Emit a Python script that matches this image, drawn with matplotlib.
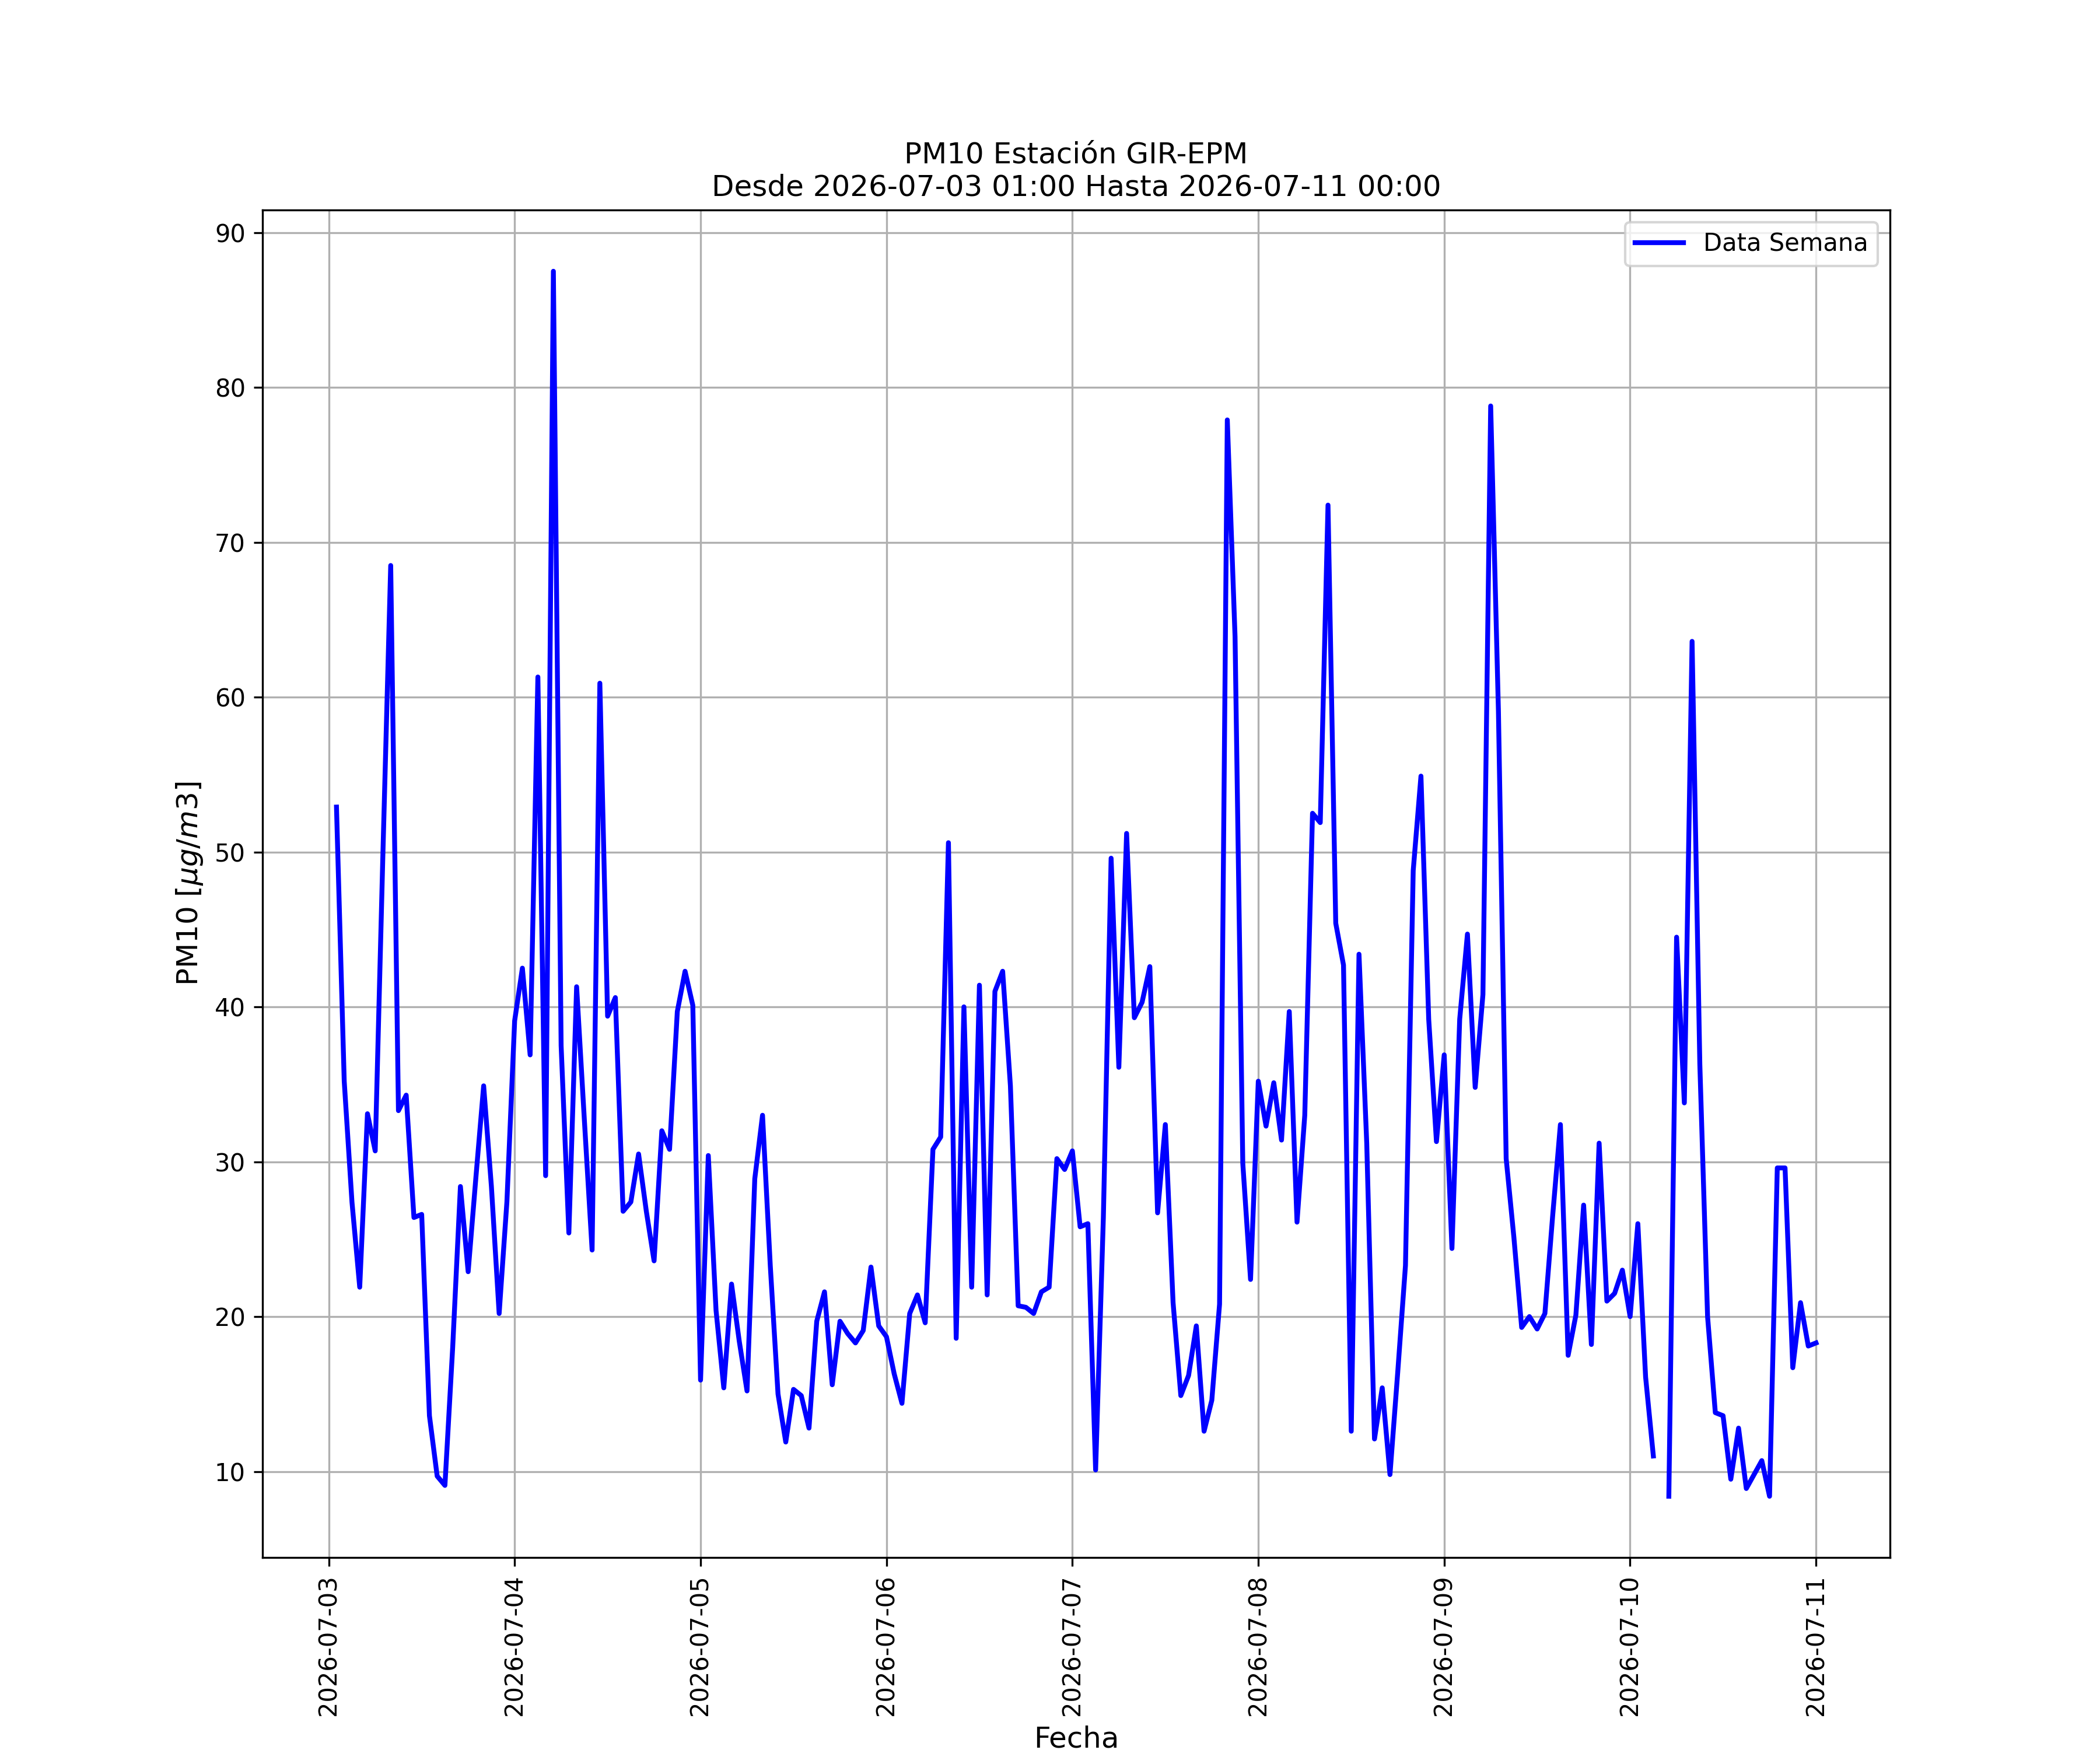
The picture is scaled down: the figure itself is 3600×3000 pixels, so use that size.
import numpy as np
import pandas as pd
import matplotlib
matplotlib.use("Agg")
import matplotlib.pyplot as plt
import matplotlib.dates as mdates

start = "2026-07-03 01:00"
end = "2026-07-11 00:00"
station = "GIR-EPM"

pm10_day1 = [52.9, 35.2, 27.4, 21.9, 33.1, 30.7, 50.0, 68.5, 33.3, 34.3, 26.4, 26.6,
             13.6, 9.7, 9.1, 18.0, 28.4, 22.9, 29.0, 34.9, 28.4, 20.2, 27.4, 39.1]
pm10_day2 = [42.5, 36.9, 61.3, 29.1, 87.5, 37.5, 25.4, 41.3, 32.7, 24.3, 60.9, 39.4,
             40.6, 26.8, 27.4, 30.5, 26.8, 23.6, 32.0, 30.8, 39.7, 42.3, 40.1, 15.9]
pm10_day3 = [30.4, 20.4, 15.4, 22.1, 18.4, 15.2, 28.9, 33.0, 23.3, 15.0, 11.9, 15.3,
             14.9, 12.8, 19.7, 21.6, 15.6, 19.7, 18.9, 18.3, 19.1, 23.2, 19.4, 18.7]
pm10_day4 = [16.3, 14.4, 20.2, 21.4, 19.6, 30.8, 31.6, 50.6, 18.6, 40.0, 21.9, 41.4,
             21.4, 41.0, 42.3, 34.9, 20.7, 20.6, 20.2, 21.6, 21.9, 30.2, 29.5, 30.7]
pm10_day5 = [25.8, 26.0, 10.1, 26.4, 49.6, 36.1, 51.2, 39.3, 40.3, 42.6, 26.7, 32.4,
             20.9, 14.9, 16.2, 19.4, 12.6, 14.6, 20.8, 77.9, 63.9, 29.9, 22.4, 35.2]
pm10_day6 = [32.3, 35.1, 31.4, 39.7, 26.1, 33.0, 52.5, 51.9, 72.4, 45.4, 42.7, 12.6,
             43.4, 31.2, 12.1, 15.4, 9.8, 16.4, 23.3, 48.8, 54.9, 39.2, 31.3, 36.9]
pm10_day7 = [24.4, 39.2, 44.7, 34.8, 40.8, 78.8, 59.1, 30.2, 25.1, 19.3, 20.0, 19.2,
             20.2, 26.5, 32.4, 17.5, 20.1, 27.2, 18.2, 31.2, 21.0, 21.5, 23.0, 20.0]
pm10_day8 = [26.0, 16.1, 11.0, np.nan, 8.4, 44.5, 33.8, 63.6, 36.3, 20.0, 13.8, 13.6,
             9.5, 12.8, 8.9, 9.8, 10.7, 8.4, 29.6, 29.6, 16.7, 20.9, 18.1, 18.3]

pm10 = pm10_day1 + pm10_day2 + pm10_day3 + pm10_day4 + pm10_day5 + pm10_day6 + pm10_day7 + pm10_day8
fechas = pd.date_range(start, end, freq="h")

fig, ax = plt.subplots(figsize=(12, 10), dpi=300)
ax.plot(fechas, pm10, color="blue", linewidth=2, label="Data Semana")
ax.set_title(f"PM10 Estación {station}\nDesde {start} Hasta {end}", fontsize=12)
ax.set_xlabel("Fecha", fontsize=12)
ax.set_ylabel(r"PM10 [$\mu g/m3$]", fontsize=12)
ax.xaxis.set_major_locator(mdates.DayLocator())
ax.xaxis.set_major_formatter(mdates.DateFormatter("%Y-%m-%d"))
plt.setp(ax.get_xticklabels(), rotation=90)
ax.grid(True)
ax.legend(loc="upper right")
fig.savefig("out.png", dpi=300)
